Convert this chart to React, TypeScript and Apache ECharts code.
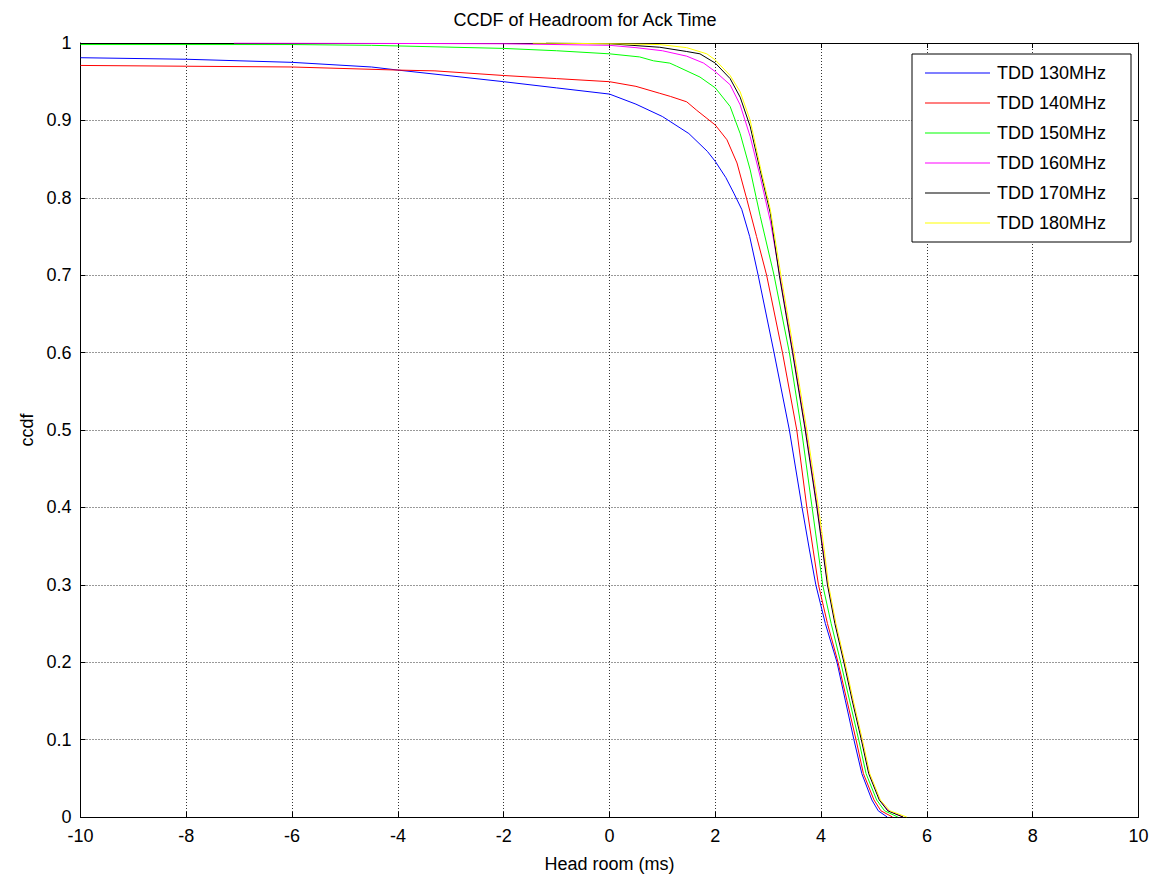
import React, { useEffect, useRef } from "react";
import * as echarts from "echarts";

const chartTitle = "CCDF of Headroom for Ack Time";
const xName = "Head room (ms)";
const yName = "ccdf";
const seriesNames = ["TDD 130MHz", "TDD 140MHz", "TDD 150MHz", "TDD 160MHz", "TDD 170MHz", "TDD 180MHz"];
const seriesColors = ["#0000ff", "#ff0000", "#00ff00", "#ff00ff", "#000000", "#ffff00"];

const x130 = [-10, -8, -6, -4.5, -4, -2, -1, 0, 0.5, 1, 1.5, 1.85, 2, 2.2, 2.35, 2.5, 2.65, 2.81, 3.11, 3.4, 3.64, 3.78, 3.9, 4.08, 4.3, 4.46, 4.62, 4.77, 4.96, 5.08, 5.25];
const y130 = [0.981, 0.979, 0.975, 0.969, 0.965, 0.95, 0.942, 0.934, 0.921, 0.905, 0.883, 0.86, 0.847, 0.826, 0.806, 0.785, 0.75, 0.7, 0.6, 0.5, 0.4, 0.345, 0.3, 0.25, 0.2, 0.15, 0.1, 0.056, 0.022, 0.008, 0];

const x140 = [-10, -8, -6, -4, -3.3, -2, -1, 0, 0.5, 0.95, 1.15, 1.46, 1.65, 2, 2.22, 2.41, 2.6, 2.78, 2.97, 3.27, 3.54, 3.73, 3.85, 3.95, 4.12, 4.32, 4.49, 4.66, 4.8, 5.0, 5.13, 5.35];
const y140 = [0.971, 0.97, 0.969, 0.965, 0.964, 0.958, 0.954, 0.95, 0.944, 0.935, 0.931, 0.924, 0.913, 0.894, 0.875, 0.845, 0.797, 0.75, 0.7, 0.6, 0.5, 0.4, 0.345, 0.3, 0.25, 0.2, 0.15, 0.1, 0.056, 0.022, 0.008, 0];

const x150 = [-10, -6, -4.5, -2, -1, 0, 0.57, 0.83, 1.14, 1.27, 1.71, 2, 2.28, 2.47, 2.66, 2.85, 3.11, 3.4, 3.63, 3.83, 3.94, 4.03, 4.19, 4.37, 4.54, 4.71, 4.85, 5.05, 5.2, 5.45];
const y150 = [0.998, 0.998, 0.997, 0.993, 0.99, 0.986, 0.982, 0.977, 0.974, 0.97, 0.956, 0.942, 0.918, 0.883, 0.836, 0.776, 0.7, 0.6, 0.5, 0.4, 0.345, 0.3, 0.25, 0.2, 0.15, 0.1, 0.056, 0.022, 0.008, 0];

const x160 = [-7.1, -2, 0, 0.5, 1, 1.46, 1.78, 2, 2.28, 2.47, 2.66, 2.85, 3.04, 3.22, 3.47, 3.71, 3.93, 4.04, 4.13, 4.27, 4.44, 4.6, 4.77, 4.91, 5.11, 5.27, 5.55];
const y160 = [1, 0.999, 0.997, 0.994, 0.99, 0.983, 0.974, 0.963, 0.946, 0.92, 0.879, 0.827, 0.77, 0.7, 0.6, 0.5, 0.4, 0.345, 0.3, 0.25, 0.2, 0.15, 0.1, 0.056, 0.022, 0.008, 0];

const x170 = [-1.2, 0, 0.95, 1.46, 1.71, 2, 2.28, 2.47, 2.66, 2.85, 3.04, 3.21, 3.46, 3.7, 3.92, 4.03, 4.12, 4.26, 4.43, 4.59, 4.76, 4.9, 5.1, 5.26, 5.55];
const y170 = [1, 0.999, 0.9945, 0.989, 0.986, 0.974, 0.954, 0.93, 0.892, 0.835, 0.78, 0.7, 0.6, 0.5, 0.4, 0.345, 0.3, 0.25, 0.2, 0.15, 0.1, 0.056, 0.022, 0.008, 0];

const x180 = [-1.45, 0, 0.95, 1.46, 1.84, 2, 2.28, 2.47, 2.66, 2.85, 3.04, 3.24, 3.49, 3.73, 3.95, 4.06, 4.14, 4.28, 4.45, 4.61, 4.78, 4.92, 5.12, 5.3, 5.62];
const y180 = [1, 0.999, 0.998, 0.994, 0.986, 0.978, 0.958, 0.937, 0.9, 0.84, 0.785, 0.7, 0.6, 0.5, 0.4, 0.345, 0.3, 0.25, 0.2, 0.15, 0.1, 0.056, 0.022, 0.008, 0];

const allX = [x130, x140, x150, x160, x170, x180];
const allY = [y130, y140, y150, y160, y170, y180];

const FONT = "Arial, 'Liberation Sans', sans-serif";

export default function App() {
  const ref = useRef<HTMLDivElement>(null);
  useEffect(() => {
    document.body.style.margin = "0";
    if (!ref.current) return;
    const chart = echarts.init(ref.current, null, { renderer: "svg" });
    const axisCommon = {
      type: "value" as const,
      axisLine: { show: true, onZero: false, lineStyle: { color: "#000", width: 1 } },
      axisTick: { show: true, inside: true, length: 5, lineStyle: { color: "#000" } },
    };
    const gridLine = { show: true, lineStyle: { color: "#333", type: [1, 2], width: 1 } };
    const option: any = {
      animation: false,
      backgroundColor: "#fff",
      textStyle: { fontFamily: FONT },
      title: {
        text: chartTitle,
        left: "center",
        top: 6,
        textStyle: { fontFamily: FONT, fontSize: 18, fontWeight: "normal", color: "#000" },
      },
      grid: { left: 80.5, right: 31.5, top: 43, bottom: 65, containLabel: false },
      xAxis: [
        {
          ...axisCommon,
          position: "bottom",
          min: -10,
          max: 10,
          interval: 2,
          name: xName,
          nameLocation: "middle",
          nameGap: 38,
          nameTextStyle: { fontFamily: FONT, fontSize: 18, color: "#000" },
          axisLabel: { fontFamily: FONT, fontSize: 18, color: "#000", margin: 10 },
          splitLine: gridLine,
        },
        {
          ...axisCommon,
          position: "top",
          min: -10,
          max: 10,
          interval: 2,
          axisLabel: { show: false },
          splitLine: { show: false },
        },
      ],
      yAxis: [
        {
          ...axisCommon,
          position: "left",
          min: 0,
          max: 1,
          interval: 0.1,
          name: yName,
          nameLocation: "middle",
          nameRotate: 90,
          nameGap: 34,
          nameTextStyle: { fontFamily: FONT, fontSize: 18, color: "#000" },
          axisLabel: { fontFamily: FONT, fontSize: 18, color: "#000", margin: 9 },
          splitLine: gridLine,
        },
        {
          ...axisCommon,
          position: "right",
          min: 0,
          max: 1,
          interval: 0.1,
          axisLabel: { show: false },
          splitLine: { show: false },
        },
      ],
      legend: {
        orient: "vertical",
        left: 925,
        top: 64,
        padding: 0,
        itemWidth: 65,
        itemHeight: 1,
        itemGap: 12,
        icon: "rect",
        selectedMode: false,
        data: seriesNames,
        textStyle: { fontFamily: FONT, fontSize: 18, lineHeight: 18, color: "#000", padding: [0, 0, 0, 2] },
      },
      graphic: [
        {
          type: "rect",
          z: 3,
          shape: { x: 912, y: 54, width: 219, height: 188 },
          style: { fill: "#fff", stroke: "#000", lineWidth: 1 },
        },
      ],
      series: seriesNames.map((name, i) => ({
        name,
        type: "line",
        xAxisIndex: 0,
        yAxisIndex: 0,
        showSymbol: false,
        symbol: "none",
        color: seriesColors[i],
        lineStyle: { color: seriesColors[i], width: 1 },
        itemStyle: { color: seriesColors[i] },
        data: allX[i].map((x, j) => [x, allY[i][j]]),
      })),
    };
    chart.setOption(option);
    return () => chart.dispose();
  }, []);
  return <div ref={ref} style={{ width: 1170, height: 882 }} />;
}
